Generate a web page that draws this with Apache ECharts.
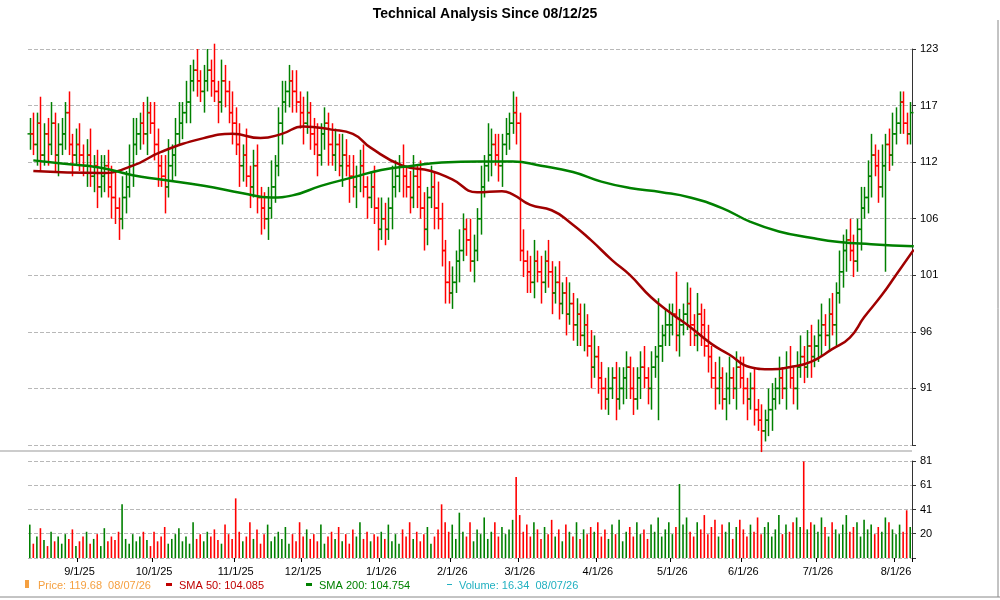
<!DOCTYPE html>
<html><head><meta charset="utf-8">
<script src="https://cdn.jsdelivr.net/npm/echarts@6/dist/echarts.min.js"></script>
<style>html,body{margin:0;padding:0;background:#fff}#c{width:1000px;height:600px}</style>
</head><body><div id="c"></div>
<script>
const closes = [
115,114,116,113,115,114,116,113,114,115,117,114,113,114,
113,112,113,111,112,110,111,112,110,109,108,107,109,110,112,114,115,116,115,117,116,
114,112,111,110,112,113,115,116,117,118,120,121,120,119,120,121,120,119,118,120,119,117,116,
114,112,113,111,110,112,109,108,107,108,110,112,116,118,119,120,119,118,117,116,
117,115,114,113,115,116,114,113,114,112,113,112,111,110,111,112,110,109,110,108,106,
107,106,108,110,111,112,111,110,109,111,110,108,106,109,110,108,107,104,101,100,
101,103,104,106,105,103,104,107,110,112,113,114,113,112,114,115,116,117,116,
104,103,102,101,103,102,101,103,102,100,101,99,100,98,99,97,98,96,97,95,93,
94,92,91,90,91,92,90,91,92,93,91,90,92,93,92,91,93,94,95,96,97,
97,98,96,97,98,99,97,96,98,97,95,94,92,91,92,90,91,92,91,93,
92,91,90,91,89,88,87,88,89,90,91,92,91,93,92,91,93,94,93,95,94,
95,96,97,96,98,97,100,102,104,105,104,103,106,108,109,111,113,112,110,112,114,113,115,116,
118,116,115,117,119.68];
const hiExt = [
1.5,2,1,2.5,1,1.5,2,1,2,1.5,1,2,1,1.5,2,1,1.5,2.5,1,1.5,2,1,1.5,2,2.5,1,2,1.5,2,2.5,1.5,1,2,1.5,1,
2,1.5,1,2,2.5,1,1.5,2,1,2,1.5,1,2,1,1.5,2,1,3.5,1,2,1.5,1,2,1.5,2,1,2.5,1,1.5,2,1,1.5,2,2.5,1,1.5,2,1,
1.5,1,2,1,1.5,2,1,1.5,2,1,1.5,1,2,1.5,1,2,1.5,1,2,1,1.5,2,1,1.5,2,1,2,1.5,1,2,1.5,1,2,1,1.5,2,1,2.5,1.5,1,2,1.5,
2.5,1.5,1,2,1.5,1,2,1.5,1,2,1.5,1,2,1,3,1.5,1,2,1,1.5,1,2,1.5,1,2,1,1.5,2,1,1.5,1,2,1,1.5,2,1,1.5,2,1,1.5,
1,2,1,1.5,2,1,1.5,1,2,1,1.5,2,1,1.5,1,2,1,1.5,2,1,1.5,1,4.5,1,1.5,2,1,4,1.5,1,2,1.5,1,2,1,1.5,2,1,1.5,2,
1,1.5,2,1,1.5,1,2,1,1.5,2,1,1.5,1,2,1.5,1,2,1,1.5,2,1,1.5,2,1,1.5,2,1,1.5,2,1,1.5,2,1,2,1.5,1,2,1.5,1,2,
1,1.5,2,1,1.5,2,1,1.5,2,1.5];
const loExt = [
1.5,1,2,1.5,1,2,1,1.5,2,1,1.5,1,2,1,1.5,1,2,1,1.5,2,1,1.5,1,2,1.5,2,1,1.5,1,2,1,1.5,1,2,1,
1.5,2,1,2.5,1,1.5,2,1,1.5,1,2,1,1.5,1,2,1,1.5,1,2,1,1.5,1,2,1,2,1.5,1,2,1,1.5,2.5,1,2,1,1.5,1,2,1,
1.5,2,1,1.5,2,1,1.5,1,2,1,1.5,2,1,1.5,1,2,1,2.5,1,2,1.5,1,2,1,1.5,2,1,1.5,1,2,1,1.5,2,1,1.5,1,2,1,2,1.5,
1,2,1,1.5,2,1,1.5,1,2,1,1.5,1,2,1,1.5,1,1.5,2,1,1.5,2,1,1.5,1,2,1,1.5,2,1,1.5,1,2,1,1.5,2,1,1.5,1,2,1,
1.5,2,1,1.5,1,2,1,1.5,2,1,1.5,1,2,1,1.5,2,1,1.5,1,2,1,1.5,2,1,6,1.5,1,2,1,1.5,2,1,1.5,2,1,1.5,2,1,1.5,1,
2,1.5,1,2,1.5,1,2,1,1.5,2,1,1.5,1,2,1,1.5,2,1,1.5,1,2,1,1.5,2,1,1.5,1,2,1,1.5,2,1,1.5,1,2,1,1.5,2,1,1.5,
1,2,1,1.5,2,1,1.5,1,10,1.5];
const volumes = [
28,12,18,25,15,10,22,14,18,12,20,16,24,10,
14,18,22,12,16,20,10,25,14,18,15,22,45,16,12,20,14,18,22,15,10,
22,14,18,26,12,16,20,25,14,18,12,30,16,20,14,22,18,24,15,12,28,20,16,
50,22,14,18,30,16,24,12,20,28,14,18,22,16,26,12,20,14,30,18,
24,16,20,14,28,12,18,22,16,26,14,20,12,24,18,30,16,22,14,20,18,
22,16,28,14,20,12,24,18,30,16,22,14,20,26,12,18,24,45,30,22,
28,16,38,22,18,30,14,24,20,34,16,22,30,18,26,20,24,32,68,
36,22,28,18,30,24,16,26,20,32,18,24,14,28,22,18,30,16,24,20,26,
22,30,18,24,16,28,20,32,14,22,26,18,30,20,24,16,28,22,34,18,24,
30,20,26,62,28,34,22,18,30,24,36,20,26,32,18,28,22,30,16,26,
32,24,18,28,22,34,20,26,30,18,24,36,20,28,22,30,34,26,81,24,30,
28,22,34,26,18,30,24,20,28,36,22,26,30,18,32,24,28,20,26,22,34,30,24,20,
28,22,40,26,16];
const sma50 = [[1,111.5],[20,111.3],[29,112],[37,113.3],[49,114.6],[57,115],[65,114.6],[71,115],[77,115.7],[85,115.4],[91,115],[96,113.7],[105,112],[113,111.5],[119,110.7],[126,109.5],[133,109.6],[136,109.3],[141,108.3],[147,107.8],[152,106.7],[158,105],[164,103.1],[169,101.7],[175,99.6],[181,98],[186,96.8],[192,95.2],[197,94.2],[203,93],[209,92.8],[214,93],[220,93.5],[226,94.7],[231,95.8],[235,97.7],[240,99.8],[244,101.7],[249,104.08]];
const sma200 = [[1,112.5],[9,112.2],[20,111.8],[29,111.1],[37,110.7],[49,110.1],[60,109.4],[68,109],[74,109.2],[82,110.1],[91,110.9],[99,111.6],[108,112],[116,112.3],[127,112.4],[136,112.4],[144,112],[153,111.4],[161,110.5],[169,109.9],[178,109.5],[186,109],[195,108],[203,106.7],[211,105.8],[220,105.2],[228,104.8],[237,104.6],[249,104.4]];
const priceTickLabels = ['91','96','101','106','112','117','123'];
const volTickLabels = ['20','41','61','81'];
const holidays = ['2025-09-01','2025-11-27','2025-12-25','2026-01-01','2026-01-19','2026-02-16','2026-04-03','2026-05-25','2026-06-19','2026-07-03'];

const dates = [];
{ let d = new Date(Date.UTC(2025,7,12)); const end = new Date(Date.UTC(2026,7,7));
  while (d <= end) { const w = d.getUTCDay(); const s = d.toISOString().slice(0,10);
    if (w!==0 && w!==6 && !holidays.includes(s)) dates.push(s); d = new Date(d.getTime()+86400000); } }
const N = Math.min(dates.length, closes.length);
const cats = dates.slice(dates.length-N);
const ohlc = [], vol = [];
for (let i=0;i<N;i++){
  const c = closes[i], o = i>0?closes[i-1]:closes[0];
  const h = Math.max(o,c)+(hiExt[i]||1), l = Math.min(o,c)-(loExt[i]||1);
  const up = c>=o;
  ohlc.push({value:[i,o,h,l,c], up});
  vol.push({value:volumes[i], itemStyle:{color: up?'#008000':'#ff0000'}});
}
const firstOfMonth = new Set();
for (let i=1;i<N;i++){ if (cats[i].slice(5,7)!==cats[i-1].slice(5,7)) firstOfMonth.add(i); }
function lab(i){ const s=cats[i]; return (+s.slice(5,7))+'/1/'+s.slice(2,4); }

const chart = echarts.init(document.getElementById('c'));
const gridCol = '#b8b8b8';
chart.setOption({
  animation:false,
  title:{text:'Technical Analysis Since 08/12/25',left:480,textAlign:'center',top:2,textStyle:{fontFamily:'Arial, Liberation Sans',fontSize:14,fontWeight:'bold',color:'#000'}},
  grid:[{left:28,right:88,top:49,bottom:155},{left:28,right:88,top:461,bottom:42}],
  xAxis:[
    {type:'category',gridIndex:0,data:cats,boundaryGap:true,axisLine:{show:false},axisTick:{show:false},axisLabel:{show:false}},
    {type:'category',gridIndex:1,data:cats,boundaryGap:true,axisLine:{show:false},
     axisTick:{show:true,interval:(i)=>firstOfMonth.has(i),lineStyle:{color:'#000'},length:4},
     axisLabel:{interval:(i)=>firstOfMonth.has(i),formatter:(v,i)=>lab(i),fontFamily:'Arial, Liberation Sans',fontSize:11,color:'#000',margin:8}}
  ],
  yAxis:[
    {type:'value',gridIndex:0,position:'right',min:85.6667,max:123,interval:5.33333,
     axisLine:{show:true,lineStyle:{color:'#333'}},axisTick:{show:true,length:4,lineStyle:{color:'#333'}},
     splitLine:{lineStyle:{color:gridCol,type:'dashed'}},
     axisLabel:{fontFamily:'Arial, Liberation Sans',fontSize:11,color:'#000',margin:8,
       formatter:(v)=>{const k=Math.round((v-85.6667)/5.33333)-1;return k>=0?priceTickLabels[k]:'';}}},
    {type:'value',gridIndex:1,position:'right',min:0,max:81.333,interval:20.3333,
     axisLine:{show:true,lineStyle:{color:'#333'}},axisTick:{show:true,length:4,lineStyle:{color:'#333'}},
     splitLine:{lineStyle:{color:gridCol,type:'dashed'}},
     axisLabel:{fontFamily:'Arial, Liberation Sans',fontSize:11,color:'#000',margin:8,
       formatter:(v)=>{const k=Math.round(v/20.3333)-1;return k>=0?volTickLabels[k]:'';}}}
  ],
  series:[
    {type:'custom',xAxisIndex:0,yAxisIndex:0,data:ohlc,z:3,
     renderItem:(params,api)=>{
       const i=api.value(0);
       const pO=api.coord([i,api.value(1)]),pH=api.coord([i,api.value(2)]),pL=api.coord([i,api.value(3)]),pC=api.coord([i,api.value(4)]);
       const col = ohlc[params.dataIndex].up?'#008000':'#ff0000';
       const x=Math.round(pO[0])+0.5, st={stroke:col,lineWidth:1.5};
       return {type:'group',children:[
         {type:'line',shape:{x1:x,y1:pH[1],x2:x,y2:pL[1]},style:st},
         {type:'line',shape:{x1:x-3,y1:pO[1],x2:x,y2:pO[1]},style:st},
         {type:'line',shape:{x1:x,y1:pC[1],x2:x+3,y2:pC[1]},style:st}]};
     }},
    {type:'line',xAxisIndex:0,yAxisIndex:0,data:sma50,smooth:true,showSymbol:false,z:4,lineStyle:{color:'#a00000',width:2.5}},
    {type:'line',xAxisIndex:0,yAxisIndex:0,data:sma200,smooth:true,showSymbol:false,z:4,lineStyle:{color:'#008000',width:2.5}},
    {type:'bar',xAxisIndex:1,yAxisIndex:1,data:vol,barWidth:1.6}
  ],
  graphic:[
    {type:'line',shape:{x1:0,y1:451,x2:912,y2:451},style:{stroke:'#999',lineWidth:1}},
    {type:'line',shape:{x1:0,y1:597,x2:1000,y2:597},style:{stroke:'#888',lineWidth:1}},
    {type:'line',shape:{x1:998,y1:20,x2:998,y2:597},style:{stroke:'#888',lineWidth:1}},
    {type:'rect',shape:{x:25,y:580,width:4,height:8},style:{fill:'#f5a040'}},
    {type:'text',left:38,top:580,style:{text:'Price: 119.68  08/07/26',fill:'#f5a040',font:'11px Arial, Liberation Sans'}},
    {type:'rect',shape:{x:166,y:583,width:6,height:3},style:{fill:'#c00000'}},
    {type:'text',left:179,top:580,style:{text:'SMA 50: 104.085',fill:'#c00000',font:'11px Arial, Liberation Sans'}},
    {type:'rect',shape:{x:306,y:583,width:6,height:3},style:{fill:'#008000'}},
    {type:'text',left:319,top:580,style:{text:'SMA 200: 104.754',fill:'#008000',font:'11px Arial, Liberation Sans'}},
    {type:'rect',shape:{x:447,y:584,width:5,height:1},style:{fill:'#20b0c0'}},
    {type:'text',left:459,top:580,style:{text:'Volume: 16.34  08/07/26',fill:'#20b0c0',font:'11px Arial, Liberation Sans'}}
  ]
});
</script></body></html>
